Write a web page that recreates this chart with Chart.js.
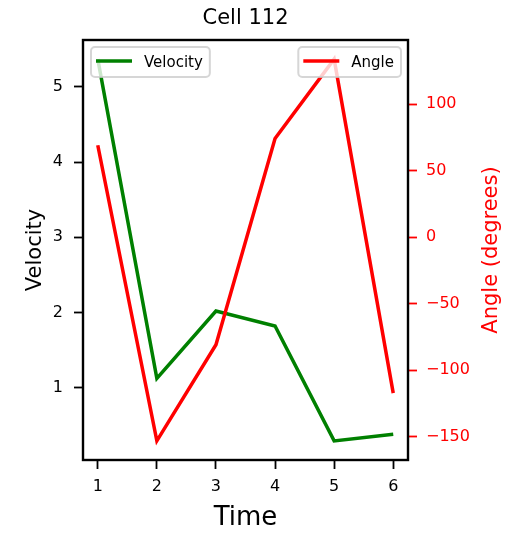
<!DOCTYPE html>
<html><head><meta charset="utf-8">
<script src="https://cdn.jsdelivr.net/npm/chart.js@4/dist/chart.umd.min.js"></script>
<style>html,body{margin:0;padding:0;background:#fff;overflow:hidden}canvas{display:block}</style>
</head><body>
<canvas id="c" width="505" height="535"></canvas>
<script>
// ---- data ----
const timePoints = [1, 2, 3, 4, 5, 6];
const velocity = [5.37, 1.125, 2.02, 1.82, 0.293, 0.382];
const angle = [69.1, -153.2, -80.9, 74.2, 133.9, -117.3];
const xTicks = [1, 2, 3, 4, 5, 6];
const velocityTicks = [1, 2, 3, 4, 5];
const angleTicks = [-150, -100, -50, 0, 50, 100];
const titleText = 'Cell 112';
const xLabel = 'Time';
const yLabel = 'Velocity';
const y2Label = 'Angle (degrees)';

const FONT = "'DejaVu Sans', sans-serif";
function padRange(arr, m) {
  const lo = Math.min(...arr), hi = Math.max(...arr), d = (hi - lo) * m;
  return [lo - d, hi + d];
}
const xr = padRange(timePoints, 0.05);
const vr = padRange(velocity, 0.05);
const ar = padRange(angle, 0.05);
const fmt = v => v < 0 ? '\u2212' + Math.abs(v) : String(v);

const textPlugin = {
  id: 'texts',
  afterDatasetsDraw(chart) {
    const ctx = chart.ctx, ca = chart.chartArea;
    const cx = (ca.left + ca.right) / 2, cy = (ca.top + ca.bottom) / 2;
    ctx.save();
    // frame
    ctx.strokeStyle = '#000'; ctx.lineWidth = 2.4;
    ctx.strokeRect(ca.left, ca.top, ca.right - ca.left, ca.bottom - ca.top);
    // title
    ctx.fillStyle = '#000'; ctx.textAlign = 'center'; ctx.textBaseline = 'alphabetic';
    ctx.font = '21px ' + FONT;
    ctx.fillText(titleText, cx, 24.3);
    // x label
    ctx.font = '26px ' + FONT;
    ctx.fillText(xLabel, cx, 525);
    // y label
    ctx.font = '21px ' + FONT;
    ctx.save(); ctx.translate(40.5, cy); ctx.rotate(-Math.PI / 2);
    ctx.fillText(yLabel, 0, 0); ctx.restore();
    // y2 label
    ctx.fillStyle = '#ff0000';
    ctx.save(); ctx.translate(496.5, cy); ctx.rotate(-Math.PI / 2);
    ctx.fillText(y2Label, 0, 0); ctx.restore();
    // legends
    const drawLegend = (ds, anchor) => {
      ctx.font = '15px ' + FONT;
      const tw = ctx.measureText(ds.label).width;
      const w = 5 + 36 + 12 + tw + 7, h = 30;
      const x = anchor === 'left' ? ca.left + 8 : ca.right - 7 - w;
      const y = ca.top + 7;
      ctx.beginPath();
      ctx.roundRect(x, y, w, h, 4);
      ctx.fillStyle = 'rgba(255,255,255,0.8)'; ctx.fill();
      ctx.strokeStyle = 'rgba(204,204,204,0.8)'; ctx.lineWidth = 2; ctx.stroke();
      ctx.beginPath();
      ctx.moveTo(x + 5, y + 14); ctx.lineTo(x + 41, y + 14);
      ctx.strokeStyle = ds.borderColor; ctx.lineWidth = 3.5; ctx.stroke();
      ctx.fillStyle = '#000'; ctx.textAlign = 'left'; ctx.textBaseline = 'alphabetic';
      ctx.fillText(ds.label, x + 53, y + 19.5);
    };
    const dsets = chart.data.datasets;
    drawLegend(dsets.find(d => d.yAxisID === 'y'), 'left');
    drawLegend(dsets.find(d => d.yAxisID === 'y2'), 'right');
    ctx.restore();
  }
};

new Chart(document.getElementById('c'), {
  type: 'line',
  data: {
    datasets: [
      { label: 'Angle', yAxisID: 'y2', order: 0,
        data: timePoints.map((t, i) => ({ x: t, y: angle[i] })),
        borderColor: '#ff0000', borderWidth: 3.5, pointRadius: 0, tension: 0, fill: false },
      { label: 'Velocity', yAxisID: 'y', order: 1,
        data: timePoints.map((t, i) => ({ x: t, y: velocity[i] })),
        borderColor: '#008000', borderWidth: 3.5, pointRadius: 0, tension: 0, fill: false }
    ]
  },
  options: {
    responsive: false, animation: false, devicePixelRatio: 1,
    layout: { padding: { top: 40, left: 0, right: 0, bottom: 0 } },
    plugins: { legend: { display: false }, title: { display: false }, tooltip: { enabled: false } },
    scales: {
      x: {
        type: 'linear', position: 'bottom', min: xr[0], max: xr[1],
        afterBuildTicks: s => { s.ticks = xTicks.map(v => ({ value: v })); },
        afterFit: s => { s.height = 75; },
        grid: { drawOnChartArea: false, drawTicks: true, tickLength: 9, tickColor: '#000', tickWidth: 1.8 },
        border: { display: false },
        ticks: { color: '#000', font: { family: FONT, size: 16 }, padding: 8, maxRotation: 0, autoSkip: false }
      },
      y: {
        type: 'linear', position: 'left', min: vr[0], max: vr[1],
        afterBuildTicks: s => { s.ticks = velocityTicks.map(v => ({ value: v })); },
        afterFit: s => { s.width = 83; },
        grid: { drawOnChartArea: false, drawTicks: true, tickLength: 9, tickColor: '#000', tickWidth: 1.8 },
        border: { display: false },
        ticks: { color: '#000', font: { family: FONT, size: 16 }, padding: 11, autoSkip: false, callback: fmt }
      },
      y2: {
        type: 'linear', position: 'right', min: ar[0], max: ar[1],
        afterBuildTicks: s => { s.ticks = angleTicks.map(v => ({ value: v })); },
        afterFit: s => { s.width = 97; },
        grid: { drawOnChartArea: false, drawTicks: true, tickLength: 9, tickColor: '#ff0000', tickWidth: 1.8 },
        border: { display: false },
        ticks: { color: '#ff0000', font: { family: FONT, size: 16 }, padding: 9, autoSkip: false, callback: fmt }
      }
    }
  },
  plugins: [textPlugin]
});
</script>
</body></html>
